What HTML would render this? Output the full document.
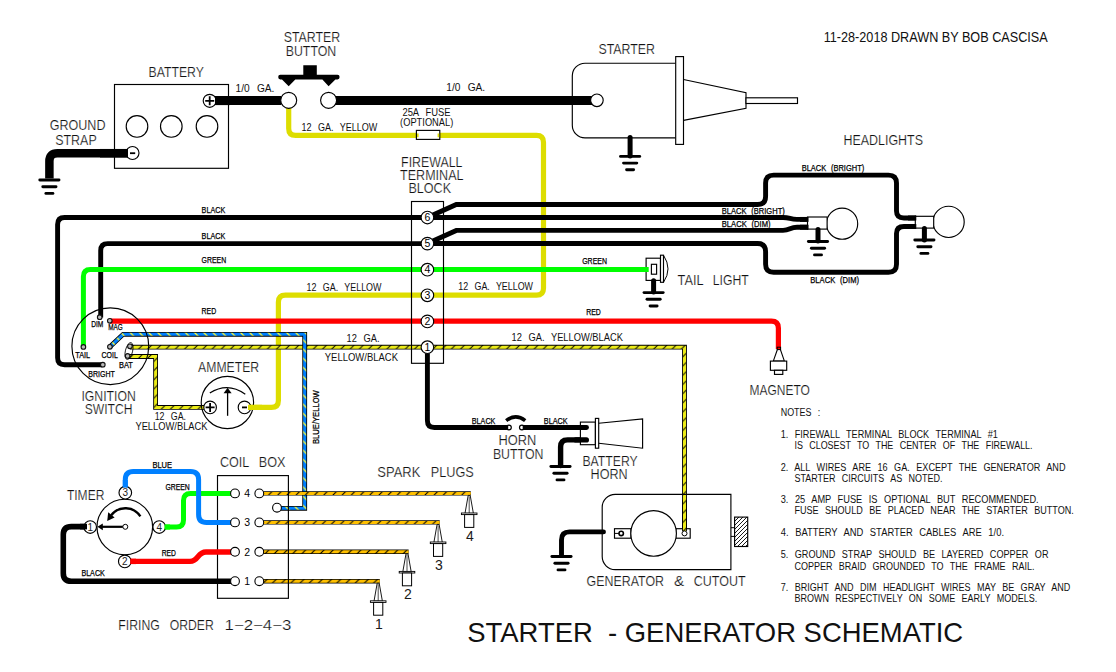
<!DOCTYPE html>
<html lang="en"><head><meta charset="utf-8"><title>Starter - Generator Schematic</title>
<style>html,body{margin:0;padding:0;background:#fff;}body{width:1116px;height:672px;overflow:hidden;}svg{display:block;font-family:"Liberation Sans", sans-serif;}</style>
</head><body>
<svg width="1116" height="672" viewBox="0 0 1116 672">
<defs>
<pattern id="yb" patternUnits="userSpaceOnUse" width="9.2" height="9.2">
<rect width="9.2" height="9.2" fill="#ebeb18"/>
<line x1="-10.2" y1="10.20" x2="1.0" y2="-1.00" stroke="#000" stroke-width="0.95"/>
<line x1="-1.0" y1="10.20" x2="10.2" y2="-1.00" stroke="#000" stroke-width="0.95"/>
<line x1="8.2" y1="10.20" x2="19.4" y2="-1.00" stroke="#000" stroke-width="0.95"/>
</pattern>
<pattern id="by" patternUnits="userSpaceOnUse" width="9.2" height="9.2">
<rect width="9.2" height="9.2" fill="#0080ff"/>
<line x1="-10.2" y1="-1.00" x2="1.0" y2="10.20" stroke="#ffff33" stroke-width="1.4"/>
<line x1="-1.0" y1="-1.00" x2="10.2" y2="10.20" stroke="#ffff33" stroke-width="1.4"/>
<line x1="8.2" y1="-1.00" x2="19.4" y2="10.20" stroke="#ffff33" stroke-width="1.4"/>
</pattern>
<pattern id="or" patternUnits="userSpaceOnUse" width="9.2" height="9.2">
<rect width="9.2" height="9.2" fill="#ffc000"/>
<line x1="-10.2" y1="10.20" x2="1.0" y2="-1.00" stroke="#000" stroke-width="1.1"/>
<line x1="-1.0" y1="10.20" x2="10.2" y2="-1.00" stroke="#000" stroke-width="1.1"/>
<line x1="8.2" y1="10.20" x2="19.4" y2="-1.00" stroke="#000" stroke-width="1.1"/>
</pattern>
<pattern id="hx" patternUnits="userSpaceOnUse" width="4" height="4">
<rect width="4" height="4" fill="#fff"/>
<line x1="-5" y1="5.00" x2="1" y2="-1.00" stroke="#000" stroke-width="0.9"/>
<line x1="-1" y1="5.00" x2="5" y2="-1.00" stroke="#000" stroke-width="0.9"/>
<line x1="3" y1="5.00" x2="9" y2="-1.00" stroke="#000" stroke-width="0.9"/>
</pattern>
</defs>
<rect width="1116" height="672" fill="#fff"/>
<path d="M288.7 106.0 L288.7 128.4 Q288.7 135.4 295.7 135.4 L536.5 135.4 Q543.5 135.4 543.5 142.4 L543.5 288.2 Q543.5 295.2 536.5 295.2 L285.4 295.2 Q278.4 295.2 278.4 302.2 L278.4 400.4 Q278.4 407.4 271.4 407.4 L250.0 407.4" fill="none" stroke="#dddd00" stroke-width="5.2" stroke-linecap="butt" stroke-linejoin="round"/>
<path d="M427.4 217.5 L64.6 217.5 Q57.6 217.5 57.6 224.5 L57.6 357.7 Q57.6 364.7 64.6 364.7 L102.8 364.7" fill="none" stroke="#000" stroke-width="4.9" stroke-linecap="butt" stroke-linejoin="round"/>
<path d="M427.4 243.6 L107.7 243.6 Q100.7 243.6 100.7 250.6 L100.7 317.5" fill="none" stroke="#000" stroke-width="4.9" stroke-linecap="butt" stroke-linejoin="round"/>
<path d="M427.4 217.5 L456.3 204.5 H757.6 Q765.6 204.5 765.6 196.5 V183.1 Q765.6 175.1 773.6 175.1 H888.5 Q896.5 175.1 896.5 183.1 V211 Q896.5 218 904 218 H916" fill="none" stroke="#000" stroke-width="4.9" stroke-linecap="butt" stroke-linejoin="miter"/>
<path d="M427.4 217.5 H783 C790 217.5 790 219.4 797 219.4 H808" fill="none" stroke="#000" stroke-width="4.9" stroke-linecap="butt" stroke-linejoin="round"/>
<path d="M427.4 243.6 L456.3 230.4 H783 C790 230.4 790 227.2 797 227.2 H808" fill="none" stroke="#000" stroke-width="4.9" stroke-linecap="butt" stroke-linejoin="miter"/>
<path d="M427.4 243.5 H757.6 Q765.6 243.5 765.6 251.5 V264.2 Q765.6 272.2 773.6 272.2 H888.5 Q896.5 272.2 896.5 264.2 V233.5 Q896.5 226.5 904 226.5 H916" fill="none" stroke="#000" stroke-width="4.9" stroke-linecap="butt" stroke-linejoin="round"/>
<path d="M427.4 347.0 L427.4 420.5 Q427.4 427.5 434.4 427.5 L506.5 427.5" fill="none" stroke="#000" stroke-width="4.9" stroke-linecap="butt" stroke-linejoin="round"/>
<path d="M524 427.5 H586.5" fill="none" stroke="#000" stroke-width="4.9" stroke-linecap="round" stroke-linejoin="round"/>
<path d="M588.5 439.9 L567.6 439.9 Q560.6 439.9 560.6 446.9 L560.6 465.5" fill="none" stroke="#000" stroke-width="5.4" stroke-linecap="round" stroke-linejoin="round"/>
<line x1="550.9" y1="466.5" x2="570.1" y2="466.5" stroke="#000" stroke-width="2.9" stroke-linecap="round"/>
<line x1="553.9" y1="473.2" x2="567.1" y2="473.2" stroke="#000" stroke-width="2.9" stroke-linecap="round"/>
<line x1="557.0" y1="479.9" x2="564.0" y2="479.9" stroke="#000" stroke-width="2.9" stroke-linecap="round"/>
<path d="M603.5 531.9 L569.5 531.9 Q561.5 531.9 561.5 539.9 L561.5 555.5" fill="none" stroke="#000" stroke-width="4.9" stroke-linecap="round" stroke-linejoin="round"/>
<line x1="551.9" y1="556.5" x2="571.1" y2="556.5" stroke="#000" stroke-width="2.9" stroke-linecap="round"/>
<line x1="554.9" y1="563.2" x2="568.1" y2="563.2" stroke="#000" stroke-width="2.9" stroke-linecap="round"/>
<line x1="558.0" y1="569.9" x2="565.0" y2="569.9" stroke="#000" stroke-width="2.9" stroke-linecap="round"/>
<path d="M648.5 269.5 L90.4 269.5 Q83.4 269.5 83.4 276.5 L83.4 346.9" fill="none" stroke="#00ff00" stroke-width="5" stroke-linecap="butt" stroke-linejoin="round"/>
<path d="M109.8 321.2 L771.4 321.2 Q778.4 321.2 778.4 328.2 L778.4 349.0" fill="none" stroke="#ff0000" stroke-width="5.2" stroke-linecap="butt" stroke-linejoin="round"/>
<path d="M130 347.2 H684.5 V530.5" fill="none" stroke="#000" stroke-width="4.8" stroke-linejoin="miter"/>
<path d="M130 347.2 H684.5 V530.5" fill="none" stroke="url(#yb)" stroke-width="3.0" stroke-linejoin="miter"/>
<path d="M128 356.5 H155.6 V407.4 H204" fill="none" stroke="#000" stroke-width="4.8" stroke-linejoin="miter"/>
<path d="M128 356.5 H155.6 V407.4 H204" fill="none" stroke="url(#yb)" stroke-width="3.0" stroke-linejoin="miter"/>
<path d="M109.9 346.8 L123.1 334.3 H304.7 V508.3 H281" fill="none" stroke="#000" stroke-width="4.8" stroke-linejoin="miter"/>
<path d="M109.9 346.8 L123.1 334.3 H304.7 V508.3 H281" fill="none" stroke="url(#by)" stroke-width="3.1" stroke-linejoin="miter"/>
<path d="M263.5 493.4 H470.8" fill="none" stroke="#000" stroke-width="4.4" stroke-linejoin="miter"/>
<path d="M263.5 493.4 H470.8" fill="none" stroke="url(#or)" stroke-width="3.0" stroke-linejoin="miter"/>
<path d="M263.5 522.4 H439.7" fill="none" stroke="#000" stroke-width="4.4" stroke-linejoin="miter"/>
<path d="M263.5 522.4 H439.7" fill="none" stroke="url(#or)" stroke-width="3.0" stroke-linejoin="miter"/>
<path d="M263.5 551.8 H408.6" fill="none" stroke="#000" stroke-width="4.4" stroke-linejoin="miter"/>
<path d="M263.5 551.8 H408.6" fill="none" stroke="url(#or)" stroke-width="3.0" stroke-linejoin="miter"/>
<path d="M263.5 581.2 H379.8" fill="none" stroke="#000" stroke-width="4.4" stroke-linejoin="miter"/>
<path d="M263.5 581.2 H379.8" fill="none" stroke="url(#or)" stroke-width="3.0" stroke-linejoin="miter"/>
<path d="M215 100.6 H281" fill="none" stroke="#000" stroke-width="9" stroke-linecap="butt" stroke-linejoin="round"/>
<path d="M335 100.6 H592" fill="none" stroke="#000" stroke-width="9" stroke-linecap="butt" stroke-linejoin="round"/>
<path d="M128.0 153.2 L57.4 153.2 Q49.4 153.2 49.4 161.2 L49.4 178.5" fill="none" stroke="#000" stroke-width="8.5" stroke-linecap="butt" stroke-linejoin="round"/>
<line x1="39.8" y1="180.0" x2="59.0" y2="180.0" stroke="#000" stroke-width="2.9" stroke-linecap="round"/>
<line x1="42.8" y1="186.7" x2="56.0" y2="186.7" stroke="#000" stroke-width="2.9" stroke-linecap="round"/>
<line x1="45.9" y1="193.4" x2="52.9" y2="193.4" stroke="#000" stroke-width="2.9" stroke-linecap="round"/>
<rect x="114.5" y="84.5" width="114.0" height="83.8" fill="none" stroke="#000" stroke-width="1.15"/>
<circle cx="137.0" cy="126.4" r="10.8" fill="none" stroke="#000" stroke-width="1.15"/>
<circle cx="171.3" cy="126.4" r="10.8" fill="none" stroke="#000" stroke-width="1.15"/>
<circle cx="207.0" cy="126.4" r="10.8" fill="none" stroke="#000" stroke-width="1.15"/>
<circle cx="209.7" cy="100.8" r="6.5" fill="#fff" stroke="#000" stroke-width="1.15"/>
<circle cx="132.5" cy="153.0" r="6.5" fill="#fff" stroke="#000" stroke-width="1.15"/>
<path d="M205.2 100.8 H214.2 M209.7 96.3 V105.3" stroke="#000" stroke-width="1.8" fill="none"/>
<path d="M130 153.2 H135.2" stroke="#000" stroke-width="1.8" fill="none"/>
<path d="M215 100.6 H230" fill="none" stroke="#000" stroke-width="9" stroke-linecap="butt" stroke-linejoin="round"/>
<path d="M128 153.2 H100" fill="none" stroke="#000" stroke-width="8.5" stroke-linecap="butt" stroke-linejoin="round"/>
<circle cx="288.7" cy="100.3" r="8.0" fill="#fff" stroke="#000" stroke-width="1.15"/>
<circle cx="328.6" cy="100.3" r="8.0" fill="#fff" stroke="#000" stroke-width="1.15"/>
<path d="M303.3 65.2 H316.8 V74.7 H337.5 Q339.6 74.7 339.6 77.1 Q339.6 79.5 337.5 79.5 H335.4 L328.6 86.2 L322.4 79.5 H295.3 L288.7 86.2 L282 79.5 H280.3 Q278.2 79.5 278.2 77.1 Q278.2 74.7 280.3 74.7 H303.3 Z" fill="#000"/>
<rect x="416.4" y="130.4" width="23.4" height="9.0" fill="#fff" stroke="#000" stroke-width="1.15"/>
<path d="M417 135.4 H418.6 M437.6 135.4 H439.2" fill="none" stroke="#dddd00" stroke-width="3.6" stroke-linecap="butt" stroke-linejoin="round"/>
<path d="M675.7 63.2 H585 A12.7 12.7 0 0 0 572.3 75.9 V125.2 A12.7 12.7 0 0 0 585 137.9 H675.7" fill="none" stroke="#000" stroke-width="1.15"/>
<rect x="675.7" y="56.6" width="7.8" height="87.8" fill="#fff" stroke="#000" stroke-width="1.15"/>
<path d="M683.5 79.5 L746 92.8 V108.3 L683.5 120.4" fill="none" stroke="#000" stroke-width="1.15"/>
<rect x="746.0" y="97.8" width="51.5" height="5.7" fill="#fff" stroke="#000" stroke-width="1.15"/>
<circle cx="596.9" cy="100.3" r="6.3" fill="#fff" stroke="#000" stroke-width="1.15"/>
<path d="M630.1 137.5 V156.0" fill="none" stroke="#000" stroke-width="5.0" stroke-linecap="round"/>
<line x1="620.5" y1="156.4" x2="639.7" y2="156.4" stroke="#000" stroke-width="2.9" stroke-linecap="round"/>
<line x1="623.5" y1="163.1" x2="636.8" y2="163.1" stroke="#000" stroke-width="2.9" stroke-linecap="round"/>
<line x1="626.6" y1="169.8" x2="633.6" y2="169.8" stroke="#000" stroke-width="2.9" stroke-linecap="round"/>
<rect x="411.5" y="201.5" width="32.0" height="161.8" fill="none" stroke="#000" stroke-width="1.15"/>
<circle cx="427.4" cy="217.5" r="6.3" fill="#fff" stroke="#000" stroke-width="1.15"/>
<text x="427.4" y="221.1" font-size="10.5" text-anchor="middle" fill="#000">6</text>
<circle cx="427.4" cy="243.6" r="6.3" fill="#fff" stroke="#000" stroke-width="1.15"/>
<text x="427.4" y="247.2" font-size="10.5" text-anchor="middle" fill="#000">5</text>
<circle cx="427.4" cy="269.7" r="6.3" fill="#fff" stroke="#000" stroke-width="1.15"/>
<text x="427.4" y="273.3" font-size="10.5" text-anchor="middle" fill="#000">4</text>
<circle cx="427.4" cy="295.3" r="6.3" fill="#fff" stroke="#000" stroke-width="1.15"/>
<text x="427.4" y="298.9" font-size="10.5" text-anchor="middle" fill="#000">3</text>
<circle cx="427.4" cy="321.4" r="6.3" fill="#fff" stroke="#000" stroke-width="1.15"/>
<text x="427.4" y="325.0" font-size="10.5" text-anchor="middle" fill="#000">2</text>
<circle cx="427.4" cy="347.2" r="6.3" fill="#fff" stroke="#000" stroke-width="1.15"/>
<text x="427.4" y="350.8" font-size="10.5" text-anchor="middle" fill="#000">1</text>
<circle cx="842.1" cy="223.7" r="15.6" fill="#fff" stroke="#000" stroke-width="1.15"/>
<rect x="807.5" y="217.0" width="19.6" height="12.1" fill="#fff" stroke="#000" stroke-width="1.15"/>
<circle cx="948.6" cy="221.9" r="15.6" fill="#fff" stroke="#000" stroke-width="1.15"/>
<rect x="915.3" y="216.3" width="18.4" height="11.8" fill="#fff" stroke="#000" stroke-width="1.15"/>
<path d="M818.0 229.5 V241.0" fill="none" stroke="#000" stroke-width="5.0" stroke-linecap="round"/>
<line x1="808.4" y1="241.5" x2="827.6" y2="241.5" stroke="#000" stroke-width="2.9" stroke-linecap="round"/>
<line x1="811.4" y1="248.2" x2="824.6" y2="248.2" stroke="#000" stroke-width="2.9" stroke-linecap="round"/>
<line x1="814.5" y1="254.9" x2="821.5" y2="254.9" stroke="#000" stroke-width="2.9" stroke-linecap="round"/>
<path d="M924.4 228.5 V240.0" fill="none" stroke="#000" stroke-width="5.0" stroke-linecap="round"/>
<line x1="914.8" y1="240.0" x2="934.0" y2="240.0" stroke="#000" stroke-width="2.9" stroke-linecap="round"/>
<line x1="917.8" y1="246.7" x2="931.0" y2="246.7" stroke="#000" stroke-width="2.9" stroke-linecap="round"/>
<line x1="920.9" y1="253.4" x2="927.9" y2="253.4" stroke="#000" stroke-width="2.9" stroke-linecap="round"/>
<path d="M800 219.4 H808.5" fill="none" stroke="#000" stroke-width="4.9" stroke-linecap="butt" stroke-linejoin="round"/>
<path d="M800 227.2 H808.5" fill="none" stroke="#000" stroke-width="4.9" stroke-linecap="butt" stroke-linejoin="round"/>
<path d="M908 218 H916.3" fill="none" stroke="#000" stroke-width="4.9" stroke-linecap="butt" stroke-linejoin="round"/>
<path d="M908 226.5 H916.3" fill="none" stroke="#000" stroke-width="4.9" stroke-linecap="butt" stroke-linejoin="round"/>
<rect x="646.1" y="258.2" width="14.4" height="22.2" fill="#fff" stroke="#000" stroke-width="1.15"/>
<path d="M640 269.5 H648.7" fill="none" stroke="#00ff00" stroke-width="5" stroke-linecap="butt" stroke-linejoin="round"/>
<rect x="651.4" y="264.3" width="5.2" height="9.9" fill="#fff" stroke="#000" stroke-width="1.15"/>
<rect x="660.5" y="255.2" width="3.0" height="27.1" fill="#fff" stroke="#000" stroke-width="1.15"/>
<path d="M663.5 255.2 Q672.5 269 663.5 282.3" fill="none" stroke="#000" stroke-width="1"/>
<path d="M653.6 280.8 V292.0" fill="none" stroke="#000" stroke-width="5.0" stroke-linecap="round"/>
<line x1="644.0" y1="292.6" x2="663.2" y2="292.6" stroke="#000" stroke-width="2.9" stroke-linecap="round"/>
<line x1="647.0" y1="299.3" x2="660.2" y2="299.3" stroke="#000" stroke-width="2.9" stroke-linecap="round"/>
<line x1="650.1" y1="306.0" x2="657.1" y2="306.0" stroke="#000" stroke-width="2.9" stroke-linecap="round"/>
<path d="M777.4 349.5 L773.3 361.1 H784.4 L780.4 349.5 Z" fill="#fff" stroke="#000" stroke-width="1.1"/>
<rect x="777.2" y="347.2" width="3.4" height="2.4" fill="#ff0000" stroke="#000" stroke-width="1.0"/>
<rect x="770.4" y="361.1" width="16.3" height="9.2" fill="#fff" stroke="#000" stroke-width="1.15"/>
<rect x="774.5" y="370.3" width="8.3" height="4.1" fill="#fff" stroke="#000" stroke-width="1.15"/>
<circle cx="110.3" cy="346.2" r="38.4" fill="none" stroke="#000" stroke-width="1.15"/>
<ellipse cx="129" cy="351" rx="3.6" ry="8.6" transform="rotate(14 129 351)" fill="none" stroke="#000" stroke-width="0.8"/>
<circle cx="99.7" cy="317.2" r="2.3" fill="#bbb" stroke="#111" stroke-width="1.1"/>
<circle cx="109.8" cy="320.8" r="2.3" fill="#bbb" stroke="#111" stroke-width="1.1"/>
<circle cx="83.4" cy="346.9" r="2.3" fill="#bbb" stroke="#111" stroke-width="1.1"/>
<circle cx="109.9" cy="346.8" r="2.3" fill="#bbb" stroke="#111" stroke-width="1.1"/>
<circle cx="129.9" cy="346.3" r="2.3" fill="#bbb" stroke="#111" stroke-width="1.1"/>
<circle cx="127.6" cy="355.9" r="2.3" fill="#bbb" stroke="#111" stroke-width="1.1"/>
<circle cx="102.8" cy="364.7" r="2.3" fill="#bbb" stroke="#111" stroke-width="1.1"/>
<circle cx="227.4" cy="402.5" r="26.2" fill="none" stroke="#000" stroke-width="1.15"/>
<circle cx="210.1" cy="407.4" r="6.3" fill="#fff" stroke="#000" stroke-width="1.15"/>
<circle cx="244.5" cy="407.4" r="6.3" fill="#fff" stroke="#000" stroke-width="1.15"/>
<path d="M205.6 407.4 H214.6 M210.1 402.9 V411.9" stroke="#000" stroke-width="1.8" fill="none"/>
<path d="M242 407.4 H247" stroke="#000" stroke-width="1.8" fill="none"/>
<path d="M227.6 415.8 V391" stroke="#000" stroke-width="1.3" fill="none"/>
<path d="M227.6 387.8 L223.6 393.2 H231.6 Z" fill="#000"/>
<path d="M209.8 393 Q227.7 381.6 245.3 394.2" stroke="#000" stroke-width="1.2" fill="none"/>
<path d="M248 407.4 H262" fill="none" stroke="#dddd00" stroke-width="5.2" stroke-linecap="butt" stroke-linejoin="round"/>
<circle cx="508.9" cy="427.5" r="2.4" fill="#fff" stroke="#000" stroke-width="1.2"/>
<circle cx="521.9" cy="427.5" r="2.4" fill="#fff" stroke="#000" stroke-width="1.2"/>
<path d="M506.2 420.6 Q515.7 413.2 525.2 420.6" fill="none" stroke="#000" stroke-width="3.7"/>
<path d="M500 427.5 H508.2" fill="none" stroke="#000" stroke-width="4.9" stroke-linecap="butt" stroke-linejoin="round"/>
<path d="M522.7 427.5 H530" fill="none" stroke="#000" stroke-width="4.9" stroke-linecap="butt" stroke-linejoin="round"/>
<rect x="580.4" y="422.1" width="15.0" height="22.6" fill="#fff" stroke="#000" stroke-width="1.15"/>
<rect x="595.4" y="418.4" width="3.3" height="29.8" fill="#fff" stroke="#000" stroke-width="1.15"/>
<path d="M598.7 423.2 L642.6 418.9 V448.2 L598.7 443.2" fill="none" stroke="#000" stroke-width="1.15"/>
<path d="M576 427.5 H586.5" fill="none" stroke="#000" stroke-width="4.9" stroke-linecap="round" stroke-linejoin="round"/>
<path d="M576 439.9 H586.3" fill="none" stroke="#000" stroke-width="5.4" stroke-linecap="round" stroke-linejoin="round"/>
<path d="M730.9 494.3 H615.2 A13 13 0 0 0 602.2 507.3 V556.6 A13 13 0 0 0 615.2 569.6 H730.9 Z" fill="none" stroke="#000" stroke-width="1.15"/>
<rect x="675.7" y="528.7" width="14.5" height="9.5" fill="#fff" stroke="#000" stroke-width="1.15"/>
<rect x="614.5" y="528.7" width="16.5" height="9.5" fill="#fff" stroke="#000" stroke-width="1.15"/>
<circle cx="653.6" cy="533.4" r="22.8" fill="#fff" stroke="#000" stroke-width="1.15"/>
<path d="M684.5 500 V531" fill="none" stroke="#000" stroke-width="4.8" stroke-linejoin="miter"/>
<path d="M684.5 500 V531" fill="none" stroke="url(#yb)" stroke-width="3.0" stroke-linejoin="miter"/>
<circle cx="684.5" cy="533.4" r="2.5" fill="#fff" stroke="#000" stroke-width="1"/>
<circle cx="621.2" cy="533.4" r="2.2" fill="#fff" stroke="#000" stroke-width="1.6"/>
<path d="M614.5 533.4 H619" stroke="#000" stroke-width="1"/>
<rect x="734.6" y="517.1" width="13.1" height="29.4" fill="url(#hx)" stroke="#000" stroke-width="1.15"/>
<path d="M730.9 527.7 H734.6 M730.9 536.4 H734.6" stroke="#000" stroke-width="1"/>
<rect x="217.5" y="475.6" width="70.9" height="122.7" fill="none" stroke="#000" stroke-width="1.15"/>
<path d="M86.0 526.6 L71.3 526.6 Q63.3 526.6 63.3 534.6 L63.3 573.2 Q63.3 581.2 71.3 581.2 L232.0 581.2" fill="none" stroke="#000" stroke-width="5.6" stroke-linecap="butt" stroke-linejoin="round"/>
<path d="M164.0 527.0 L176.5 527.0 Q183.5 527.0 183.5 520.0 L183.5 500.4 Q183.5 493.4 190.5 493.4 L232.0 493.4" fill="none" stroke="#00ff00" stroke-width="5" stroke-linecap="butt" stroke-linejoin="round"/>
<path d="M125.3 488.0 L125.3 479.4 Q125.3 471.4 133.3 471.4 L190.6 471.4 Q198.6 471.4 198.6 479.4 L198.6 514.4 Q198.6 522.4 206.6 522.4 L232.0 522.4" fill="none" stroke="#0080ff" stroke-width="5" stroke-linecap="butt" stroke-linejoin="round"/>
<path d="M130 561.4 H190 C199 561.4 197 552 206 552 H232" fill="none" stroke="#ff0000" stroke-width="5.4" stroke-linecap="butt" stroke-linejoin="round"/>
<circle cx="124.8" cy="527.0" r="27.8" fill="none" stroke="#000" stroke-width="1.15"/>
<circle cx="125.3" cy="492.7" r="6.3" fill="#fff" stroke="#000" stroke-width="1.15"/>
<text x="125.3" y="496.2" font-size="10" text-anchor="middle" fill="#222">3</text>
<circle cx="90.2" cy="527.0" r="6.3" fill="#fff" stroke="#000" stroke-width="1.15"/>
<text x="90.2" y="530.5" font-size="10" text-anchor="middle" fill="#222">1</text>
<circle cx="159.2" cy="527.0" r="6.3" fill="#fff" stroke="#000" stroke-width="1.15"/>
<text x="159.2" y="530.5" font-size="10" text-anchor="middle" fill="#222">4</text>
<circle cx="124.8" cy="561.4" r="6.3" fill="#fff" stroke="#000" stroke-width="1.15"/>
<text x="124.8" y="564.9" font-size="10" text-anchor="middle" fill="#222">2</text>
<circle cx="125.3" cy="526.8" r="2.5" fill="#fff" stroke="#000" stroke-width="1"/>
<path d="M80 526.6 H87" fill="none" stroke="#000" stroke-width="5.6" stroke-linecap="butt" stroke-linejoin="round"/>
<path d="M125.3 480 V487.6" fill="none" stroke="#0080ff" stroke-width="5" stroke-linecap="butt" stroke-linejoin="round"/>
<path d="M164.5 527 H170" fill="none" stroke="#00ff00" stroke-width="5" stroke-linecap="butt" stroke-linejoin="round"/>
<path d="M130.2 561.4 H136" fill="none" stroke="#ff0000" stroke-width="5.4" stroke-linecap="butt" stroke-linejoin="round"/>
<path d="M122.8 526.8 H101" stroke="#000" stroke-width="2.2" fill="none"/>
<path d="M97.4 526.8 L102.8 523.4 V530.2 Z" fill="#000"/>
<path d="M140.4 516.4 A18 18 0 0 0 111.2 515.2" stroke="#000" stroke-width="2.4" fill="none"/>
<path d="M107.2 521 L108.2 512.2 L114.6 517.6 Z" fill="#000"/>
<circle cx="235.0" cy="493.4" r="4.4" fill="#fff" stroke="#000" stroke-width="1.1"/>
<circle cx="259.3" cy="493.4" r="4.4" fill="#fff" stroke="#000" stroke-width="1.1"/>
<text x="247.2" y="497.1" font-size="10.5" text-anchor="middle" fill="#000">4</text>
<circle cx="235.0" cy="522.4" r="4.4" fill="#fff" stroke="#000" stroke-width="1.1"/>
<circle cx="259.3" cy="522.4" r="4.4" fill="#fff" stroke="#000" stroke-width="1.1"/>
<text x="247.2" y="526.1" font-size="10.5" text-anchor="middle" fill="#000">3</text>
<circle cx="235.0" cy="551.8" r="4.4" fill="#fff" stroke="#000" stroke-width="1.1"/>
<circle cx="259.3" cy="551.8" r="4.4" fill="#fff" stroke="#000" stroke-width="1.1"/>
<text x="247.2" y="555.5" font-size="10.5" text-anchor="middle" fill="#000">2</text>
<circle cx="235.0" cy="581.2" r="4.4" fill="#fff" stroke="#000" stroke-width="1.1"/>
<circle cx="259.3" cy="581.2" r="4.4" fill="#fff" stroke="#000" stroke-width="1.1"/>
<text x="247.2" y="584.9" font-size="10.5" text-anchor="middle" fill="#000">1</text>
<circle cx="277.0" cy="507.7" r="4.4" fill="#fff" stroke="#000" stroke-width="1.1"/>
<path d="M468.2 495.4 L465.0 513.4 H473.4 L470.2 495.4 Z" fill="#fff" stroke="#000" stroke-width="0.9"/>
<path d="M469.2 496.4 V513.4" stroke="#000" stroke-width="0.7"/>
<rect x="461.4" y="513.0" width="15.6" height="1.6" fill="#fff" stroke="#000" stroke-width="0.9"/>
<rect x="464.6" y="514.6" width="9.2" height="12.8" fill="#fff" stroke="#000" stroke-width="1"/>
<text x="470.0" y="541.0" font-size="14" text-anchor="middle" fill="#1a1a1a">4</text>
<path d="M437.1 524.4 L433.9 542.4 H442.3 L439.1 524.4 Z" fill="#fff" stroke="#000" stroke-width="0.9"/>
<path d="M438.1 525.4 V542.4" stroke="#000" stroke-width="0.7"/>
<rect x="430.3" y="542.0" width="15.6" height="1.6" fill="#fff" stroke="#000" stroke-width="0.9"/>
<rect x="433.5" y="543.6" width="9.2" height="12.8" fill="#fff" stroke="#000" stroke-width="1"/>
<text x="438.9" y="570.0" font-size="14" text-anchor="middle" fill="#1a1a1a">3</text>
<path d="M406.0 553.8 L402.8 571.8 H411.2 L408.0 553.8 Z" fill="#fff" stroke="#000" stroke-width="0.9"/>
<path d="M407.0 554.8 V571.8" stroke="#000" stroke-width="0.7"/>
<rect x="399.2" y="571.4" width="15.6" height="1.6" fill="#fff" stroke="#000" stroke-width="0.9"/>
<rect x="402.4" y="573.0" width="9.2" height="12.8" fill="#fff" stroke="#000" stroke-width="1"/>
<text x="407.8" y="599.4" font-size="14" text-anchor="middle" fill="#1a1a1a">2</text>
<path d="M377.2 583.2 L374.0 601.2 H382.4 L379.2 583.2 Z" fill="#fff" stroke="#000" stroke-width="0.9"/>
<path d="M378.2 584.2 V601.2" stroke="#000" stroke-width="0.7"/>
<rect x="370.4" y="600.8" width="15.6" height="1.6" fill="#fff" stroke="#000" stroke-width="0.9"/>
<rect x="373.6" y="602.4" width="9.2" height="12.8" fill="#fff" stroke="#000" stroke-width="1"/>
<text x="379.0" y="628.8" font-size="14" text-anchor="middle" fill="#1a1a1a">1</text>
<text x="148.5" y="77.2" font-size="13.97" textLength="55.4" lengthAdjust="spacingAndGlyphs" fill="#111" stroke="#fff" stroke-width="0.2" >BATTERY</text>
<text x="49.7" y="130.4" font-size="13.97" textLength="55.8" lengthAdjust="spacingAndGlyphs" fill="#111" stroke="#fff" stroke-width="0.2" >GROUND</text>
<text x="55.2" y="144.7" font-size="13.97" textLength="41.5" lengthAdjust="spacingAndGlyphs" fill="#111" stroke="#fff" stroke-width="0.2" >STRAP</text>
<text x="283.7" y="42.0" font-size="13.97" textLength="56.6" lengthAdjust="spacingAndGlyphs" fill="#111" stroke="#fff" stroke-width="0.2" >STARTER</text>
<text x="285.7" y="55.6" font-size="13.97" textLength="50.6" lengthAdjust="spacingAndGlyphs" fill="#111" stroke="#fff" stroke-width="0.2" >BUTTON</text>
<text x="235.6" y="92.3" font-size="10.47" textLength="38.8" lengthAdjust="spacingAndGlyphs" fill="#111"   word-spacing="4.5">1/0 GA.</text>
<text x="446.3" y="90.7" font-size="10.47" textLength="38.9" lengthAdjust="spacingAndGlyphs" fill="#111"   word-spacing="4.5">1/0 GA.</text>
<text x="301.5" y="131.1" font-size="10.47" textLength="75.8" lengthAdjust="spacingAndGlyphs" fill="#111"   word-spacing="4.5">12 GA. YELLOW</text>
<text x="402.4" y="116.3" font-size="10.06" textLength="48.2" lengthAdjust="spacingAndGlyphs" fill="#111"   word-spacing="4.5">25A FUSE</text>
<text x="400.1" y="126.4" font-size="10.06" textLength="53.2" lengthAdjust="spacingAndGlyphs" fill="#111"  >(OPTIONAL)</text>
<text x="401.1" y="166.8" font-size="13.97" textLength="61.4" lengthAdjust="spacingAndGlyphs" fill="#111" stroke="#fff" stroke-width="0.2" >FIREWALL</text>
<text x="400.1" y="180.0" font-size="13.97" textLength="63.4" lengthAdjust="spacingAndGlyphs" fill="#111" stroke="#fff" stroke-width="0.2" >TERMINAL</text>
<text x="408.4" y="193.2" font-size="13.97" textLength="42.7" lengthAdjust="spacingAndGlyphs" fill="#111" stroke="#fff" stroke-width="0.2" >BLOCK</text>
<text x="598.4" y="53.6" font-size="13.97" textLength="56.6" lengthAdjust="spacingAndGlyphs" fill="#111" stroke="#fff" stroke-width="0.2" >STARTER</text>
<text x="843.4" y="145.4" font-size="13.97" textLength="79.6" lengthAdjust="spacingAndGlyphs" fill="#111" stroke="#fff" stroke-width="0.2" >HEADLIGHTS</text>
<text x="801.7" y="170.8" font-size="8.38" textLength="62.5" lengthAdjust="spacingAndGlyphs" fill="#000" stroke="#000" stroke-width="0.25"  word-spacing="3">BLACK (BRIGHT)</text>
<text x="721.8" y="213.8" font-size="8.38" textLength="63.0" lengthAdjust="spacingAndGlyphs" fill="#000" stroke="#000" stroke-width="0.25"  word-spacing="3">BLACK (BRIGHT)</text>
<text x="721.8" y="226.8" font-size="8.38" textLength="48.7" lengthAdjust="spacingAndGlyphs" fill="#000" stroke="#000" stroke-width="0.25"  word-spacing="3">BLACK (DIM)</text>
<text x="810.3" y="282.5" font-size="8.38" textLength="48.7" lengthAdjust="spacingAndGlyphs" fill="#000" stroke="#000" stroke-width="0.25"  word-spacing="3">BLACK (DIM)</text>
<text x="677.6" y="285.0" font-size="13.97" textLength="26.0" lengthAdjust="spacingAndGlyphs" fill="#111" stroke="#fff" stroke-width="0.2" >TAIL</text>
<text x="712.8" y="285.0" font-size="13.97" textLength="36.0" lengthAdjust="spacingAndGlyphs" fill="#111" stroke="#fff" stroke-width="0.2" >LIGHT</text>
<text x="582.2" y="263.9" font-size="8.38" textLength="24.8" lengthAdjust="spacingAndGlyphs" fill="#000" stroke="#000" stroke-width="0.25" >GREEN</text>
<text x="458.3" y="289.7" font-size="10.47" textLength="74.7" lengthAdjust="spacingAndGlyphs" fill="#111"   word-spacing="4.5">12 GA. YELLOW</text>
<text x="306.5" y="291.3" font-size="10.47" textLength="75.0" lengthAdjust="spacingAndGlyphs" fill="#111"   word-spacing="4.5">12 GA. YELLOW</text>
<text x="586.2" y="315.1" font-size="8.38" textLength="14.6" lengthAdjust="spacingAndGlyphs" fill="#000" stroke="#000" stroke-width="0.25" >RED</text>
<text x="511.5" y="341.2" font-size="10.47" textLength="111.4" lengthAdjust="spacingAndGlyphs" fill="#111"   word-spacing="4.5">12 GA. YELLOW/BLACK</text>
<text x="346.5" y="341.6" font-size="10.47" textLength="33.0" lengthAdjust="spacingAndGlyphs" fill="#111"   word-spacing="4.5">12 GA.</text>
<text x="324.8" y="361.3" font-size="10.47" textLength="73.2" lengthAdjust="spacingAndGlyphs" fill="#111"  >YELLOW/BLACK</text>
<text x="471.8" y="424.0" font-size="8.38" textLength="23.6" lengthAdjust="spacingAndGlyphs" fill="#000" stroke="#000" stroke-width="0.25" >BLACK</text>
<text x="543.8" y="424.0" font-size="8.38" textLength="23.9" lengthAdjust="spacingAndGlyphs" fill="#000" stroke="#000" stroke-width="0.25" >BLACK</text>
<text x="498.4" y="445.3" font-size="13.97" textLength="37.8" lengthAdjust="spacingAndGlyphs" fill="#111" stroke="#fff" stroke-width="0.2" >HORN</text>
<text x="492.9" y="458.9" font-size="13.97" textLength="50.5" lengthAdjust="spacingAndGlyphs" fill="#111" stroke="#fff" stroke-width="0.2" >BUTTON</text>
<text x="582.4" y="465.8" font-size="13.97" textLength="55.3" lengthAdjust="spacingAndGlyphs" fill="#111" stroke="#fff" stroke-width="0.2" >BATTERY</text>
<text x="590.6" y="479.1" font-size="13.97" textLength="37.1" lengthAdjust="spacingAndGlyphs" fill="#111" stroke="#fff" stroke-width="0.2" >HORN</text>
<text x="586.6" y="586.1" font-size="13.97" textLength="77.4" lengthAdjust="spacingAndGlyphs" fill="#111" stroke="#fff" stroke-width="0.2" >GENERATOR</text>
<text x="673.9" y="586.1" font-size="13.97" textLength="10.2" lengthAdjust="spacingAndGlyphs" fill="#111" stroke="#fff" stroke-width="0.2" >&amp;</text>
<text x="693.8" y="586.1" font-size="13.97" textLength="51.8" lengthAdjust="spacingAndGlyphs" fill="#111" stroke="#fff" stroke-width="0.2" >CUTOUT</text>
<text x="749.5" y="394.7" font-size="13.97" textLength="60.4" lengthAdjust="spacingAndGlyphs" fill="#111" stroke="#fff" stroke-width="0.2" >MAGNETO</text>
<text x="201.6" y="212.6" font-size="8.38" textLength="23.6" lengthAdjust="spacingAndGlyphs" fill="#000" stroke="#000" stroke-width="0.25" >BLACK</text>
<text x="201.6" y="238.7" font-size="8.38" textLength="23.6" lengthAdjust="spacingAndGlyphs" fill="#000" stroke="#000" stroke-width="0.25" >BLACK</text>
<text x="201.6" y="263.3" font-size="8.38" textLength="24.6" lengthAdjust="spacingAndGlyphs" fill="#000" stroke="#000" stroke-width="0.25" >GREEN</text>
<text x="201.6" y="314.4" font-size="8.38" textLength="14.6" lengthAdjust="spacingAndGlyphs" fill="#000" stroke="#000" stroke-width="0.25" >RED</text>
<text x="91.2" y="326.7" font-size="8.38" textLength="12.1" lengthAdjust="spacingAndGlyphs" fill="#000" stroke="#000" stroke-width="0.25" >DIM</text>
<text x="108.3" y="330.1" font-size="8.38" textLength="14.5" lengthAdjust="spacingAndGlyphs" fill="#000" stroke="#000" stroke-width="0.25" >MAG</text>
<text x="75.2" y="357.7" font-size="8.38" textLength="15.0" lengthAdjust="spacingAndGlyphs" fill="#000" stroke="#000" stroke-width="0.25" >TAIL</text>
<text x="101.5" y="357.7" font-size="8.38" textLength="16.3" lengthAdjust="spacingAndGlyphs" fill="#000" stroke="#000" stroke-width="0.25" >COIL</text>
<text x="119.0" y="367.7" font-size="8.38" textLength="13.9" lengthAdjust="spacingAndGlyphs" fill="#000" stroke="#000" stroke-width="0.25" >BAT</text>
<text x="88.2" y="376.8" font-size="8.38" textLength="26.6" lengthAdjust="spacingAndGlyphs" fill="#000" stroke="#000" stroke-width="0.25" >BRIGHT</text>
<text x="198.1" y="371.5" font-size="13.97" textLength="61.1" lengthAdjust="spacingAndGlyphs" fill="#111" stroke="#fff" stroke-width="0.2" >AMMETER</text>
<text x="81.4" y="400.9" font-size="13.97" textLength="54.4" lengthAdjust="spacingAndGlyphs" fill="#111" stroke="#fff" stroke-width="0.2" >IGNITION</text>
<text x="84.7" y="414.1" font-size="13.97" textLength="47.8" lengthAdjust="spacingAndGlyphs" fill="#111" stroke="#fff" stroke-width="0.2" >SWITCH</text>
<text x="154.7" y="419.7" font-size="10.47" textLength="31.3" lengthAdjust="spacingAndGlyphs" fill="#111"   word-spacing="4.5">12 GA.</text>
<text x="135.4" y="429.5" font-size="10.47" textLength="72.2" lengthAdjust="spacingAndGlyphs" fill="#111"  >YELLOW/BLACK</text>
<text x="219.9" y="466.7" font-size="13.97" textLength="29.3" lengthAdjust="spacingAndGlyphs" fill="#111" stroke="#fff" stroke-width="0.2" >COIL</text>
<text x="258.8" y="466.7" font-size="13.97" textLength="26.7" lengthAdjust="spacingAndGlyphs" fill="#111" stroke="#fff" stroke-width="0.2" >BOX</text>
<text x="152.4" y="467.6" font-size="8.38" textLength="19.6" lengthAdjust="spacingAndGlyphs" fill="#000" stroke="#000" stroke-width="0.25" >BLUE</text>
<text x="165.5" y="489.7" font-size="8.38" textLength="24.3" lengthAdjust="spacingAndGlyphs" fill="#000" stroke="#000" stroke-width="0.25" >GREEN</text>
<text x="161.7" y="556.2" font-size="8.38" textLength="14.3" lengthAdjust="spacingAndGlyphs" fill="#000" stroke="#000" stroke-width="0.25" >RED</text>
<text x="81.4" y="576.0" font-size="8.38" textLength="23.4" lengthAdjust="spacingAndGlyphs" fill="#000" stroke="#000" stroke-width="0.25" >BLACK</text>
<text x="66.9" y="499.7" font-size="13.97" textLength="37.5" lengthAdjust="spacingAndGlyphs" fill="#111" stroke="#fff" stroke-width="0.2" >TIMER</text>
<text x="377.3" y="476.6" font-size="13.97" textLength="43.0" lengthAdjust="spacingAndGlyphs" fill="#111" stroke="#fff" stroke-width="0.2" >SPARK</text>
<text x="430.7" y="476.6" font-size="13.97" textLength="43.1" lengthAdjust="spacingAndGlyphs" fill="#111" stroke="#fff" stroke-width="0.2" >PLUGS</text>
<text x="118.3" y="629.5" font-size="13.97" textLength="41.5" lengthAdjust="spacingAndGlyphs" fill="#111" stroke="#fff" stroke-width="0.2" >FIRING</text>
<text x="169.7" y="629.5" font-size="13.97" textLength="44.1" lengthAdjust="spacingAndGlyphs" fill="#111" stroke="#fff" stroke-width="0.2" >ORDER</text>
<text x="224.6" y="629.5" font-size="13.97" textLength="66.7" lengthAdjust="spacingAndGlyphs" fill="#111" stroke="#fff" stroke-width="0.2" >1−2−4−3</text>
<text transform="translate(318.9 444) rotate(-90)" font-size="8.4" textLength="53.8" lengthAdjust="spacingAndGlyphs" fill="#000" stroke="#000" stroke-width="0.25">BLUE/YELLOW</text>
<text x="780.7" y="415.6" font-size="10.47" textLength="39.6" lengthAdjust="spacingAndGlyphs" fill="#111"   word-spacing="4.5">NOTES :</text>
<text x="780.7" y="437.9" font-size="10.47" textLength="217.2" lengthAdjust="spacingAndGlyphs" fill="#111"   word-spacing="4.5">1. FIREWALL TERMINAL BLOCK TERMINAL #1</text>
<text x="794.4" y="449.1" font-size="10.47" textLength="238.2" lengthAdjust="spacingAndGlyphs" fill="#111"   word-spacing="4.5">IS CLOSEST TO THE CENTER OF THE FIREWALL.</text>
<text x="780.7" y="470.8" font-size="10.47" textLength="284.8" lengthAdjust="spacingAndGlyphs" fill="#111"   word-spacing="4.5">2. ALL WIRES ARE 16 GA. EXCEPT THE GENERATOR AND</text>
<text x="794.4" y="481.8" font-size="10.47" textLength="148.1" lengthAdjust="spacingAndGlyphs" fill="#111"   word-spacing="4.5">STARTER CIRCUITS AS NOTED.</text>
<text x="780.7" y="503.3" font-size="10.47" textLength="258.0" lengthAdjust="spacingAndGlyphs" fill="#111"   word-spacing="4.5">3. 25 AMP FUSE IS OPTIONAL BUT RECOMMENDED.</text>
<text x="794.4" y="514.3" font-size="10.47" textLength="279.4" lengthAdjust="spacingAndGlyphs" fill="#111"   word-spacing="4.5">FUSE SHOULD BE PLACED NEAR THE STARTER BUTTON.</text>
<text x="780.7" y="536.0" font-size="10.47" textLength="223.3" lengthAdjust="spacingAndGlyphs" fill="#111"   word-spacing="4.5">4. BATTERY AND STARTER CABLES ARE 1/0.</text>
<text x="780.7" y="558.3" font-size="10.47" textLength="267.8" lengthAdjust="spacingAndGlyphs" fill="#111"   word-spacing="4.5">5. GROUND STRAP SHOULD BE LAYERED COPPER OR</text>
<text x="794.4" y="569.6" font-size="10.47" textLength="240.1" lengthAdjust="spacingAndGlyphs" fill="#111"   word-spacing="4.5">COPPER BRAID GROUNDED TO THE FRAME RAIL.</text>
<text x="780.7" y="590.8" font-size="10.47" textLength="289.7" lengthAdjust="spacingAndGlyphs" fill="#111"   word-spacing="4.5">7. BRIGHT AND DIM HEADLIGHT WIRES MAY BE GRAY AND</text>
<text x="794.4" y="601.8" font-size="10.47" textLength="242.8" lengthAdjust="spacingAndGlyphs" fill="#111"   word-spacing="4.5">BROWN RESPECTIVELY ON SOME EARLY MODELS.</text>
<text x="823.7" y="41.9" font-size="14.5" textLength="224" lengthAdjust="spacingAndGlyphs" fill="#111">11-28-2018 DRAWN BY BOB CASCISA</text>
<text x="467.3" y="641.8" font-size="27.4" textLength="495.8" lengthAdjust="spacingAndGlyphs" fill="#111" xml:space="preserve">STARTER  - GENERATOR SCHEMATIC</text>
</svg></body></html>
